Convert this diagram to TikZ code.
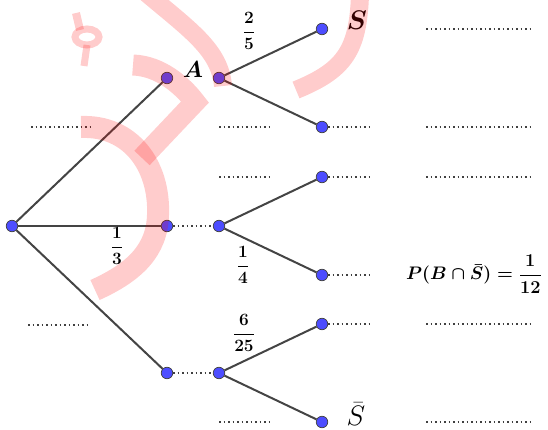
\documentclass[tikz,border=0pt]{standalone}
\usepackage{amsmath}
\definecolor{ptblue}{RGB}{77,77,255}
\definecolor{linegray}{RGB}{68,68,68}
\begin{document}
\begin{tikzpicture}[x=1pt,y=-1pt,
  pt/.style={circle,inner sep=0pt,minimum size=11.5pt,fill=ptblue,draw=black!75,line width=0.7pt},
  br/.style={draw=linegray,line width=2pt},
  blank/.style={draw=black!75,line width=2pt,dash pattern=on 1.8pt off 2.7pt},
  wm/.style={draw=red,draw opacity=0.2,line width=20pt},
  frac/.style={inner sep=0pt,font=\fontsize{17.28}{20}\selectfont\boldmath},
  big/.style={inner sep=0pt,font=\fontsize{24.88}{28}\selectfont}]
\useasboundingbox (0,0) rectangle (548,430);
% points
\node[pt] (R) at (12,226) {};
\node[pt] (N1) at (167,78) {};
\node[pt] (N2) at (167,226) {};
\node[pt] (N3) at (167,373) {};
\node[pt] (M1) at (219,78) {};
\node[pt] (M2) at (219,226) {};
\node[pt] (M3) at (219,373) {};
\node[pt] (L1) at (322,29) {};
\node[pt] (L2) at (322,127) {};
\node[pt] (L3) at (322,177) {};
\node[pt] (L4) at (322,275) {};
\node[pt] (L5) at (322,324) {};
\node[pt] (L6) at (322,422) {};
% free ends of dotted lines
\coordinate (E2) at (373,127);
\coordinate (E3) at (373,177);
\coordinate (E4) at (373,275);
\coordinate (E5) at (373,324);
% branches
\draw[br] (R) -- (N1);
\draw[br] (R) -- (N2);
\draw[br] (R) -- (N3);
\draw[br] (M1) -- (L1);
\draw[br] (M1) -- (L2);
\draw[br] (M2) -- (L3);
\draw[br] (M2) -- (L4);
\draw[br] (M3) -- (L5);
\draw[br] (M3) -- (L6);
% dotted connections
\draw[blank] (N2) -- (M2);
\draw[blank] (N3) -- (M3);
\draw[blank] (L2) -- (E2);
\draw[blank] (L3) -- (E3);
\draw[blank] (L4) -- (E4);
\draw[blank] (L5) -- (E5);
% blanks
\coordinate (B1a) at (31,127); \coordinate (B1b) at (90,127);
\coordinate (B2a) at (28,325); \coordinate (B2b) at (88,325);
\coordinate (B3a) at (219,127); \coordinate (B3b) at (271,127);
\coordinate (B4a) at (219,177); \coordinate (B4b) at (271,177);
\coordinate (B5a) at (219,422); \coordinate (B5b) at (271,422);
\draw[blank] (B1a) -- (B1b);
\draw[blank] (B2a) -- (B2b);
\draw[blank] (B3a) -- (B3b);
\draw[blank] (B4a) -- (B4b);
\draw[blank] (B5a) -- (B5b);
\foreach \y in {29,127,177,324,422}{
  \coordinate (Ra) at (426,\y); \coordinate (Rb) at (530,\y);
  \draw[blank] (Ra) -- (Rb);
}
% labels
\node[big,font=\fontsize{20.74}{24}\selectfont\boldmath,scale=1.12] (lA) at (193,70) {$A$};
\node[big,font=\fontsize{24.88}{28}\selectfont\boldmath,scale=1.08] (lS) at (357,20) {$S$};
\node[big,scale=1.13] (lSb) at (356,414) {$\bar{S}$};
\node[frac] (f1) at (249,31) {$\dfrac{2}{5}$};
\node[frac] (f2) at (117,246) {$\dfrac{1}{3}$};
\node[frac] (f3) at (243,265) {$\dfrac{1}{4}$};
\node[frac] (f4) at (244,333) {$\dfrac{6}{25}$};
\node[frac,scale=1.05] (pr) at (474,274) {$P(B\cap\bar{S})=\dfrac{1}{12}$};
% watermark
\draw[wm,line width=18pt] (145,-8) .. controls (190,30) and (220,50) .. (223,86);
\draw[wm,line width=8pt] (76,13) -- (80,30);
\draw[wm,line width=7pt] (87,37) ellipse [x radius=12, y radius=8];
\draw[wm,line width=7pt] (87,45) -- (84,66);
\draw[wm,line width=21pt,line join=miter] (133,65) .. controls (160,66) and (182,85) .. (195,102) -- (142,158);
\draw[wm,line width=22pt] (81,127) .. controls (130,125) and (160,165) .. (158,215) .. controls (157,250) and (135,272) .. (95,290);
\draw[wm,line width=18pt] (360,-5) .. controls (358,50) and (345,70) .. (296,90);
\end{tikzpicture}
\end{document}
